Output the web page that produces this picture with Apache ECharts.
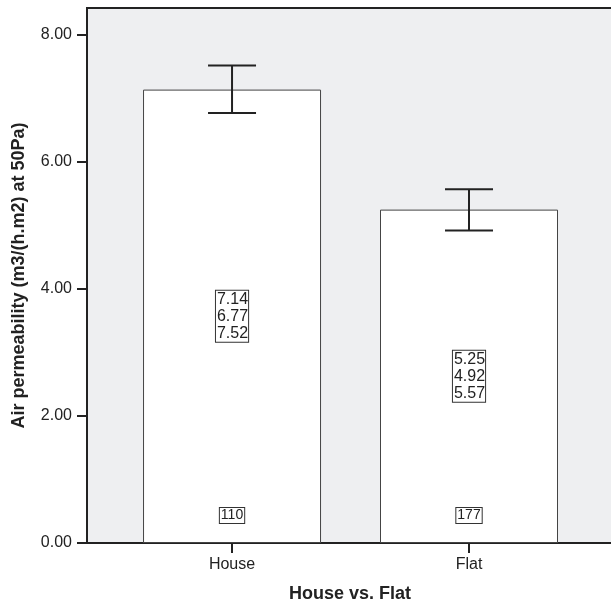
<!DOCTYPE html>
<html>
<head>
<meta charset="utf-8">
<script src="https://cdn.jsdelivr.net/npm/echarts@6/dist/echarts.min.js"></script>
<style>html,body{margin:0;padding:0;background:#fff}#c{width:611px;height:605px}</style>
</head>
<body>
<div id="c"></div>
<script>
var categories = ['House', 'Flat'];
var means = [7.14, 5.25];
var lowerCI = [6.77, 4.92];
var upperCI = [7.52, 5.57];
var counts = [110, 177];
var yTicks = [0, 2, 4, 6, 8];

var FONT = '"Liberation Sans", Arial, sans-serif';
var chart = echarts.init(document.getElementById('c'));

var barData = means.map(function (m, i) { return [i, m]; });
var errData = means.map(function (m, i) { return [i, lowerCI[i], upperCI[i]]; });

chart.setOption({
  animation: false,
  grid: {
    left: 87, right: -2, top: 8, bottom: 62,
    outerBoundsMode: 'none', containLabel: false,
    show: true, backgroundColor: '#EEEFF1', borderColor: '#222', borderWidth: 2
  },
  xAxis: {
    type: 'value', min: -0.612, max: 1.6076,
    name: 'House vs. Flat', nameLocation: 'middle', nameGap: 42,
    nameTextStyle: { fontFamily: FONT, fontSize: 18, fontWeight: 'bold', color: '#222' },
    splitLine: { show: false },
    axisLine: { show: true, onZero: false, lineStyle: { color: '#222', width: 2 } },
    axisTick: { show: true, length: 10, customValues: [0, 1], lineStyle: { color: '#222', width: 2 } },
    axisLabel: {
      customValues: [0, 1], margin: 14,
      fontFamily: FONT, fontSize: 16, color: '#222',
      formatter: function (v) { return categories[Math.round(v)]; }
    }
  },
  yAxis: {
    type: 'value', min: 0, max: 8.425,
    name: 'Air permeability (m3/(h.m2) at 50Pa)', nameLocation: 'middle', nameGap: 59,
    nameTextStyle: { fontFamily: FONT, fontSize: 18, fontWeight: 'bold', color: '#222' },
    splitLine: { show: false },
    axisLine: { show: true, onZero: false, lineStyle: { color: '#222', width: 2 } },
    axisTick: { show: true, length: 10, customValues: yTicks, lineStyle: { color: '#222', width: 2 } },
    axisLabel: {
      customValues: yTicks, margin: 15,
      fontFamily: FONT, fontSize: 16, color: '#222',
      formatter: function (v) { return v.toFixed(2); }
    }
  },
  series: [
    {
      type: 'bar', data: barData, barWidth: 178,
      itemStyle: { color: '#fff', borderColor: '#444', borderWidth: 1 },
      label: {
        show: true, position: 'inside',
        fontFamily: FONT, fontSize: 16, color: '#222', lineHeight: 17,
        backgroundColor: '#fff', borderColor: '#333', borderWidth: 1, padding: [0, 0, 0, 1],
        formatter: function (p) {
          var i = p.dataIndex;
          return means[i].toFixed(2) + '\n' + lowerCI[i].toFixed(2) + '\n' + upperCI[i].toFixed(2);
        }
      },
      z: 2
    },
    {
      type: 'bar', data: barData, barWidth: 178, barGap: '-100%',
      itemStyle: { color: 'rgba(0,0,0,0)' },
      label: {
        show: true, position: 'insideBottom', distance: 20,
        fontFamily: FONT, fontSize: 14, color: '#222', lineHeight: 15,
        backgroundColor: '#fff', borderColor: '#333', borderWidth: 1, padding: [0, 1, 0, 1],
        formatter: function (p) { return String(counts[p.dataIndex]); }
      },
      z: 3
    },
    {
      type: 'custom', data: errData, z: 4,
      renderItem: function (params, api) {
        var x = api.value(0);
        var lo = api.coord([x, api.value(1)]);
        var hi = api.coord([x, api.value(2)]);
        var hw = 24;
        var st = { stroke: '#222', lineWidth: 2 };
        return {
          type: 'group',
          children: [
            { type: 'line', shape: { x1: lo[0], y1: lo[1], x2: hi[0], y2: hi[1] }, style: st },
            { type: 'line', shape: { x1: lo[0] - hw, y1: lo[1], x2: lo[0] + hw, y2: lo[1] }, style: st },
            { type: 'line', shape: { x1: hi[0] - hw, y1: hi[1], x2: hi[0] + hw, y2: hi[1] }, style: st }
          ]
        };
      }
    }
  ]
});
</script>
</body>
</html>
